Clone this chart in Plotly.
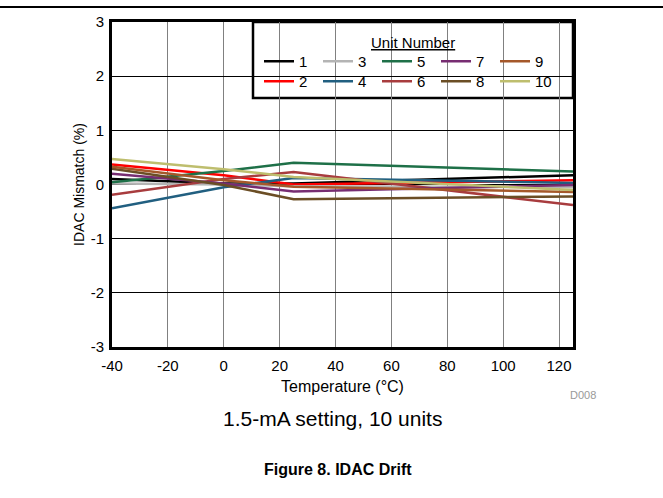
import plotly.graph_objects as go

temps = [-40, 0, 25, 125]
unit_names = ["1", "2", "3", "4", "5", "6", "7", "8", "9", "10"]
unit1 = [0.10, 0.02, 0.02, 0.17]
unit2 = [0.37, 0.17, 0.00, 0.08]
unit3 = [0.02, 0.00, -0.03, -0.05]
unit4 = [-0.44, -0.05, 0.12, 0.03]
unit5 = [0.04, 0.25, 0.40, 0.24]
unit6 = [-0.19, 0.10, 0.23, -0.38]
unit7 = [0.20, 0.02, -0.13, -0.01]
unit8 = [0.29, -0.01, -0.27, -0.22]
unit9 = [0.33, 0.08, -0.04, -0.14]
unit10 = [0.47, 0.28, 0.14, -0.10]
series = [unit1, unit2, unit3, unit4, unit5, unit6, unit7, unit8, unit9, unit10]
colors = ["#000000", "#FF0000", "#B4B4B4", "#215F80", "#1E7048",
          "#A83C3E", "#772D72", "#6B4E25", "#A5582A", "#BEBE6E"]

x_ticks = [-40, -20, 0, 20, 40, 60, 80, 100, 120]
y_ticks = [-3, -2, -1, 0, 1, 2, 3]

FONT = "Arial, Liberation Sans, sans-serif"

fig = go.Figure()
for i, (name, vals, col) in enumerate(zip(unit_names, series, colors)):
    fig.add_trace(go.Scatter(
        x=temps, y=vals, mode="lines", name=name,
        line=dict(color=col, width=2.5),
        legend="legend" if i % 2 == 0 else "legend2",
    ))

W, H = 663, 498
L, R, T, B = 112, 90, 22, 151
pw, ph = W - L - R, H - T - B

def px(x):
    return (x - L) / pw

def py(y):
    return (H - B - y) / ph

legend_common = dict(
    orientation="h", xanchor="left", yanchor="top",
    entrywidth=14, entrywidthmode="pixels",
    bgcolor="rgba(0,0,0,0)", borderwidth=0,
    font=dict(family=FONT, size=15, color="black"),
    traceorder="normal", itemclick=False, itemdoubleclick=False,
)

fig.update_layout(
    width=W, height=H,
    margin=dict(l=L, r=R, t=T, b=B, autoexpand=False),
    paper_bgcolor="white", plot_bgcolor="white",
    font=dict(family=FONT, size=15, color="black"),
    showlegend=True,
    legend=dict(x=px(259), y=py(45), **legend_common),
    legend2=dict(x=px(259), y=py(65), **legend_common),
    xaxis=dict(
        range=[-40, 125], tickvals=x_ticks, ticktext=[str(v) for v in x_ticks],
        showgrid=True, gridcolor="#808080", gridwidth=1,
        showline=True, linecolor="black", linewidth=3, mirror=True,
        zeroline=False, ticks="", ticklabelstandoff=3,
        tickfont=dict(family=FONT, size=15, color="black"),
        title=dict(text="Temperature (°C)", standoff=8,
                   font=dict(family=FONT, size=16, color="black")),
    ),
    yaxis=dict(
        range=[-3, 3], tickvals=y_ticks, ticktext=[str(v) for v in y_ticks],
        showgrid=True, gridcolor="black", gridwidth=1,
        showline=True, linecolor="black", linewidth=3, mirror=True,
        zeroline=False, ticks="", ticklabelstandoff=2,
        tickfont=dict(family=FONT, size=15, color="black"),
        title=dict(text="IDAC Mismatch (%)", standoff=3,
                   font=dict(family=FONT, size=14, color="black")),
    ),
    shapes=[
        dict(type="rect", xref="paper", yref="paper",
             x0=px(253), x1=1.0, y0=py(98), y1=1.0,
             line=dict(color="black", width=2.5), fillcolor="white", layer="between"),
        dict(type="line", xref="paper", yref="paper", layer="above",
             x0=0.0, x1=1.0, y0=py(7), y1=py(7),
             line=dict(color="black", width=2)),
        dict(type="line", xref="paper", yref="paper", layer="above",
             x0=px(0), x1=0.0, y0=py(7), y1=py(7),
             line=dict(color="black", width=2)),
        dict(type="line", xref="paper", yref="paper", layer="above",
             x0=1.0, x1=px(663), y0=py(7), y1=py(7),
             line=dict(color="black", width=2)),
    ],
    annotations=[
        dict(text="<u>Unit Number</u>", xref="paper", yref="paper",
             x=px(413), y=py(42), xanchor="center", yanchor="middle", showarrow=False,
             font=dict(family=FONT, size=15, color="black")),
        dict(text="D008", xref="paper", yref="paper",
             x=px(583), y=py(395), xanchor="center", yanchor="middle", showarrow=False,
             font=dict(family=FONT, size=11, color="#999999")),
        dict(text="1.5-mA setting, 10 units", xref="paper", yref="paper",
             x=px(332), y=py(418), xanchor="center", yanchor="middle", showarrow=False,
             font=dict(family=FONT, size=21, color="black")),
        dict(text="<b>Figure 8. IDAC Drift</b>", xref="paper", yref="paper",
             x=px(338), y=py(469), xanchor="center", yanchor="middle", showarrow=False,
             font=dict(family=FONT, size=16, color="black")),
    ],
)

fig.write_html("out.html", config={"displayModeBar": False},
               post_script="document.body.style.margin='0';")
